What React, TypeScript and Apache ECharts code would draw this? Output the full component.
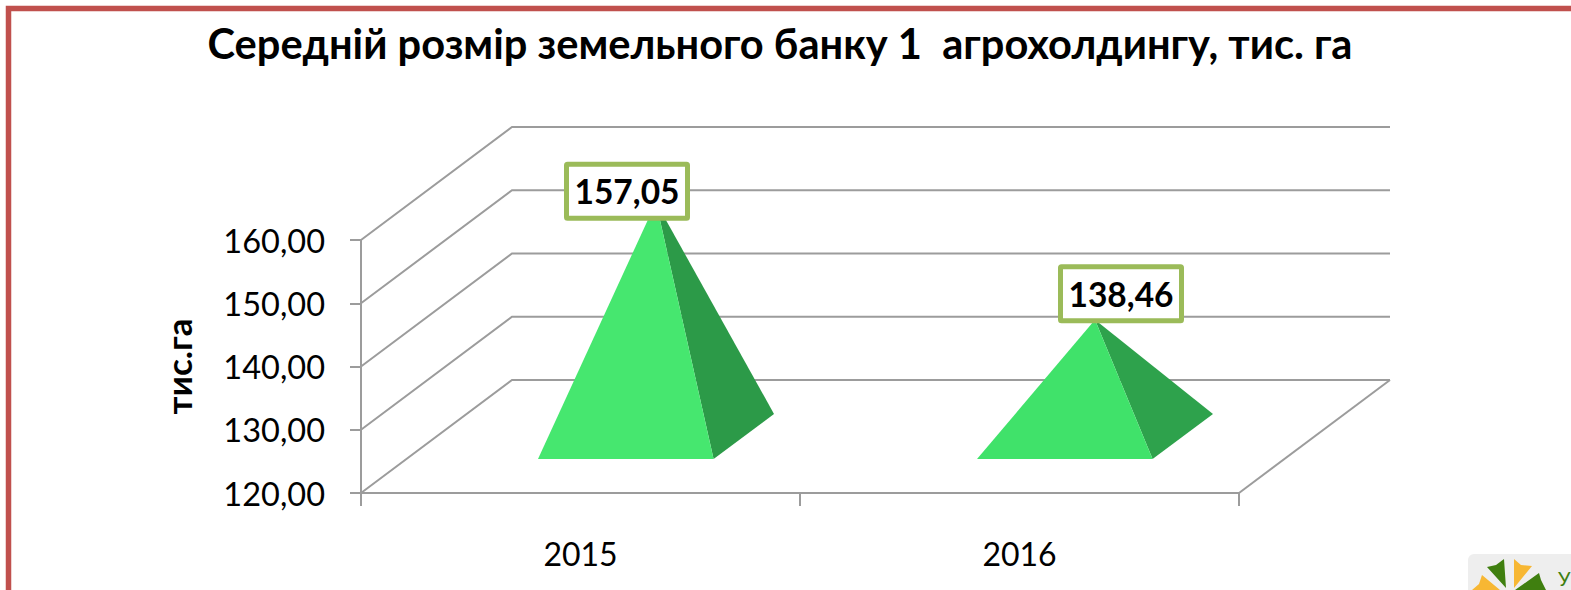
import React, { useEffect, useRef } from "react";
import * as echarts from "echarts";

const titleText = "Середній розмір земельного банку 1  агрохолдингу, тис. га";
const axisName = "тис.га";
const categories = ["2015", "2016"];
const values = [157.05, 138.46];
const valueLabels = ["157,05", "138,46"];
const ticks = [120, 130, 140, 150, 160];
const frontColors = ["#46E76F", "#40E26A"];
const sideColors = ["#2C9A48", "#2EA24C"];

const FONT = "Lato, 'Noto Sans', sans-serif";
const GRID = "#9C9C9C";
const DEPTH_X = 151;
const DEPTH_Y = 113;
const FRONT = 0.3;
const BACK = 0.7;
const HALF_WIDTH = 0.2;
const LABEL_SHIFT = [
  [-29, -11],
  [26, -26],
];

function wallItem(params: any, api: any) {
  const v = api.value(0);
  const cs = params.coordSys;
  const y = api.coord([0, v])[1];
  const x0 = cs.x;
  const x1 = cs.x + cs.width;
  const children: any[] = [
    {
      type: "polyline",
      shape: {
        points: [
          [x0, y],
          [x0 + DEPTH_X, y - DEPTH_Y],
          [x1 + DEPTH_X, y - DEPTH_Y],
        ],
      },
      style: { fill: "none", stroke: GRID, lineWidth: 2 },
    },
  ];
  if (v === ticks[0]) {
    children.push({
      type: "line",
      shape: { x1, y1: y, x2: x1 + DEPTH_X, y2: y - DEPTH_Y },
      style: { stroke: GRID, lineWidth: 2 },
    });
  }
  return { type: "group", children };
}

function pyramidItem(params: any, api: any) {
  const i = params.dataIndex;
  const base = api.coord([api.value(0), ticks[0]]);
  const top = api.coord([api.value(0), api.value(1)]);
  const half = api.size([1, 0])[0] * HALF_WIDTH;
  const fl: [number, number] = [base[0] - half + DEPTH_X * FRONT, base[1] - DEPTH_Y * FRONT];
  const fr: [number, number] = [base[0] + half + DEPTH_X * FRONT, base[1] - DEPTH_Y * FRONT];
  const br: [number, number] = [base[0] + half + DEPTH_X * BACK, base[1] - DEPTH_Y * BACK];
  const apex: [number, number] = [top[0] + DEPTH_X / 2, top[1] - DEPTH_Y / 2];
  return {
    type: "group",
    children: [
      { type: "polygon", shape: { points: [fr, br, apex] }, style: { fill: sideColors[i] } },
      { type: "polygon", shape: { points: [fl, fr, apex] }, style: { fill: frontColors[i] } },
    ],
  };
}

function labelItem(params: any, api: any) {
  const i = params.dataIndex;
  const top = api.coord([api.value(0), api.value(1)]);
  const cx = top[0] + DEPTH_X / 2 + LABEL_SHIFT[i][0];
  const cy = top[1] - DEPTH_Y / 2 + LABEL_SHIFT[i][1];
  return {
    type: "group",
    children: [
      {
        type: "rect",
        shape: { x: cx - 60.5, y: cy - 27, width: 121, height: 54, r: 1 },
        style: { fill: "#FFFFFF", stroke: "#9BBB59", lineWidth: 5 },
      },
      {
        type: "text",
        x: cx,
        y: cy,
        style: {
          text: valueLabels[i],
          fill: "#000000",
          font: `bold 33.5px ${FONT}`,
          align: "center",
          verticalAlign: "middle",
        },
      },
    ],
  };
}

export default function App() {
  const ref = useRef<HTMLDivElement>(null);
  useEffect(() => {
    document.body.style.margin = "0";
    document.body.style.overflow = "hidden";
    const chart = echarts.init(ref.current!, undefined, { renderer: "svg" });
    chart.setOption({
      animation: false,
      backgroundColor: "#FFFFFF",
      title: {
        text: titleText,
        left: 775,
        top: 17,
        textAlign: "center",
        textStyle: { fontFamily: FONT, fontWeight: "bold", fontSize: 41.6, color: "#000000" },
      },
      grid: { left: 361, width: 878, top: 240, height: 253 },
      xAxis: {
        type: "category",
        data: categories,
        axisLine: { show: true, lineStyle: { color: GRID, width: 2 } },
        axisTick: { show: true, length: 13, lineStyle: { color: GRID, width: 2 } },
        axisLabel: { color: "#000000", fontFamily: FONT, fontSize: 32, margin: 44 },
        splitLine: { show: false },
      },
      yAxis: {
        type: "value",
        min: 120,
        max: 160,
        interval: 10,
        name: axisName,
        nameLocation: "middle",
        nameRotate: 90,
        nameGap: 166,
        nameTextStyle: { fontFamily: FONT, fontWeight: "bold", fontSize: 35, color: "#000000" },
        axisLine: { show: true, lineStyle: { color: GRID, width: 2 } },
        axisTick: { show: true, length: 11, lineStyle: { color: GRID, width: 2 } },
        axisLabel: {
          color: "#000000",
          fontFamily: FONT,
          fontSize: 32.5,
          margin: 36,
          formatter: (v: number) => v.toFixed(2).replace(".", ","),
        },
        splitLine: { show: false },
      },
      series: [
        {
          type: "custom",
          name: "walls",
          clip: false,
          z: 1,
          data: ticks.map((t) => [t]),
          encode: { y: 0 },
          renderItem: wallItem,
        },
        {
          type: "custom",
          name: "pyramids",
          clip: false,
          z: 2,
          data: values.map((v, i) => [i, v]),
          encode: { x: 0, y: 1 },
          renderItem: pyramidItem,
        },
        {
          type: "custom",
          name: "labels",
          clip: false,
          z: 3,
          data: values.map((v, i) => [i, v]),
          encode: { x: 0, y: 1 },
          renderItem: labelItem,
        },
      ],
      graphic: [
        {
          type: "polyline",
          z: 10,
          shape: { points: [[8.5, 600], [8.5, 8.5], [1580, 8.5]] },
          style: { fill: "none", stroke: "#C0504D", lineWidth: 5.5 },
        },
        {
          type: "rect",
          z: 10,
          shape: { x: 1468, y: 554, width: 120, height: 50, r: 6 },
          style: { fill: "#EEEEEE" },
        },
        {
          type: "polygon",
          z: 11,
          shape: { points: [[1487, 567], [1496, 565], [1504, 559], [1506, 588]] },
          style: { fill: "#3F7F0F" },
        },
        {
          type: "polygon",
          z: 11,
          shape: { points: [[1514, 559], [1521, 565], [1532, 566], [1514, 588]] },
          style: { fill: "#F7B733" },
        },
        {
          type: "polygon",
          z: 11,
          shape: { points: [[1482, 575], [1479, 584], [1472, 590], [1500, 590]] },
          style: { fill: "#F7B733" },
        },
        {
          type: "polygon",
          z: 11,
          shape: { points: [[1539, 573], [1541, 580], [1546, 590], [1515, 590]] },
          style: { fill: "#3F7F0F" },
        },
        {
          type: "text",
          z: 11,
          x: 1558,
          y: 568,
          style: { text: "У", fill: "#3F7F0F", font: `20px ${FONT}` },
        },
      ],
    });
    return () => chart.dispose();
  }, []);
  return <div ref={ref} style={{ position: "absolute", left: 0, top: 0, width: 1571, height: 590 }} />;
}
